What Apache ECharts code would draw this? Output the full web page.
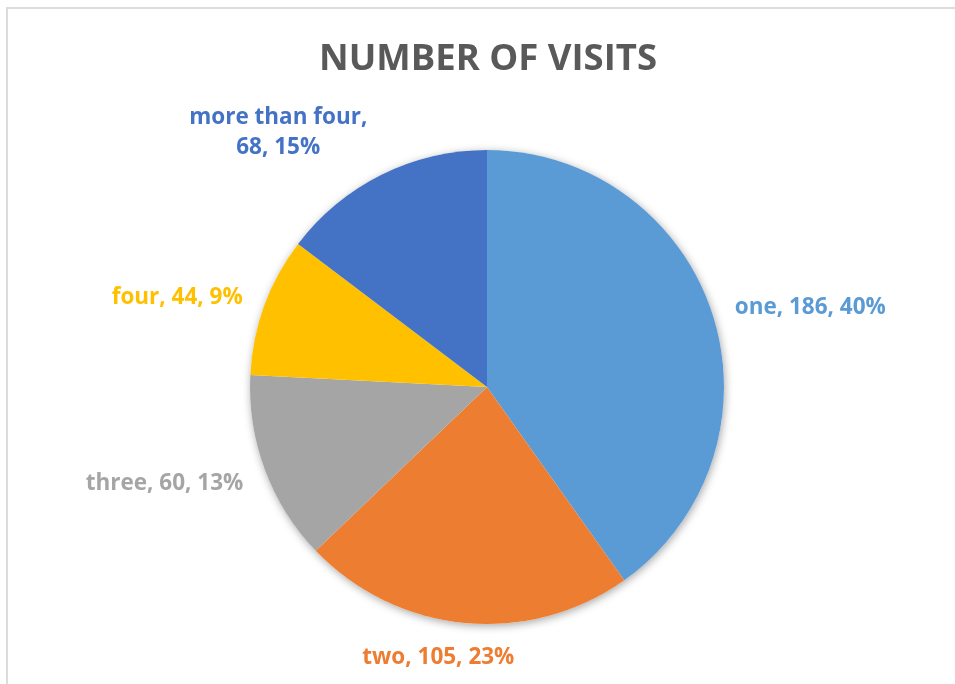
<!DOCTYPE html>
<html>
<head>
<meta charset="utf-8">
<title>Number of Visits</title>
<script src="https://cdn.jsdelivr.net/npm/echarts@6/dist/echarts.min.js"></script>
<style>
  html, body { margin: 0; padding: 0; background: #ffffff; overflow: hidden; }
  #frame {
    position: absolute; left: 6px; top: 7px; width: 1200px; height: 1000px;
    border: 2px solid #dcdcdc; box-sizing: border-box; pointer-events: none;
  }
  #chart { position: absolute; left: 0; top: 0; width: 955px; height: 684px; }
</style>
</head>
<body>
<div id="frame"></div>
<div id="chart"></div>
<script>
// Visit-count categories and their counts
const categories = ['one', 'two', 'three', 'four', 'more than four'];
const visits = [186, 105, 60, 44, 68];
const shareLabels = ['40%', '23%', '13%', '9%', '15%'];
const sliceColors = ['#5B9BD5', '#ED7D31', '#A5A5A5', '#FFC000', '#4472C4'];

const total = visits.reduce((a, b) => a + b, 0);

// Fine placement of the outside labels (alignment and nudges)
const labelShift = [
  {},
  { align: 'center', dx: -24, dy: 12 },
  { dy: 6 },
  {},
  { align: 'center', dx: -93, dy: -22 }
];

const chart = echarts.init(document.getElementById('chart'), null, { renderer: 'canvas' });

const pieData = categories.map((name, i) => ({
  name: name,
  value: visits[i],
  itemStyle: { color: sliceColors[i] },
  label: { color: sliceColors[i] }
}));

chart.setOption({
  backgroundColor: 'transparent',
  animation: false,
  title: {
    text: 'NUMBER OF VISITS',
    left: 314,
    top: 36,
    textStyle: {
      fontFamily: 'Open Sans',
      fontWeight: 'bold',
      fontSize: 36.5,
      color: '#595959'
    }
  },
  series: [
    {
      // soft drop shadow under the whole pie
      type: 'pie',
      silent: true,
      z: 1,
      center: [487, 387],
      radius: 237,
      label: { show: false },
      labelLine: { show: false },
      itemStyle: {
        color: '#ffffff',
        shadowBlur: 9,
        shadowColor: 'rgba(0,0,0,0.35)',
        shadowOffsetX: 1,
        shadowOffsetY: 2
      },
      data: [{ name: 'all', value: total }]
    },
    {
      type: 'pie',
      z: 2,
      center: [487, 387],
      radius: 237,
      startAngle: 90,
      clockwise: true,
      avoidLabelOverlap: false,
      silent: true,
      itemStyle: { borderWidth: 0 },
      label: {
        show: true,
        position: 'outside',
        fontFamily: 'Open Sans',
        fontWeight: 'bold',
        fontSize: 22.5,
        lineHeight: 30,
        distanceToLabelLine: 0,
        formatter: function (p) {
          const sep = p.name.length > 10 ? ',\n' : ', ';
          return p.name + sep + p.value + ', ' + shareLabels[p.dataIndex];
        }
      },
      labelLine: { show: false, length: 23, length2: 0 },
      labelLayout: function (params) {
        return labelShift[params.dataIndex] || {};
      },
      data: pieData
    }
  ]
});
</script>
</body>
</html>
